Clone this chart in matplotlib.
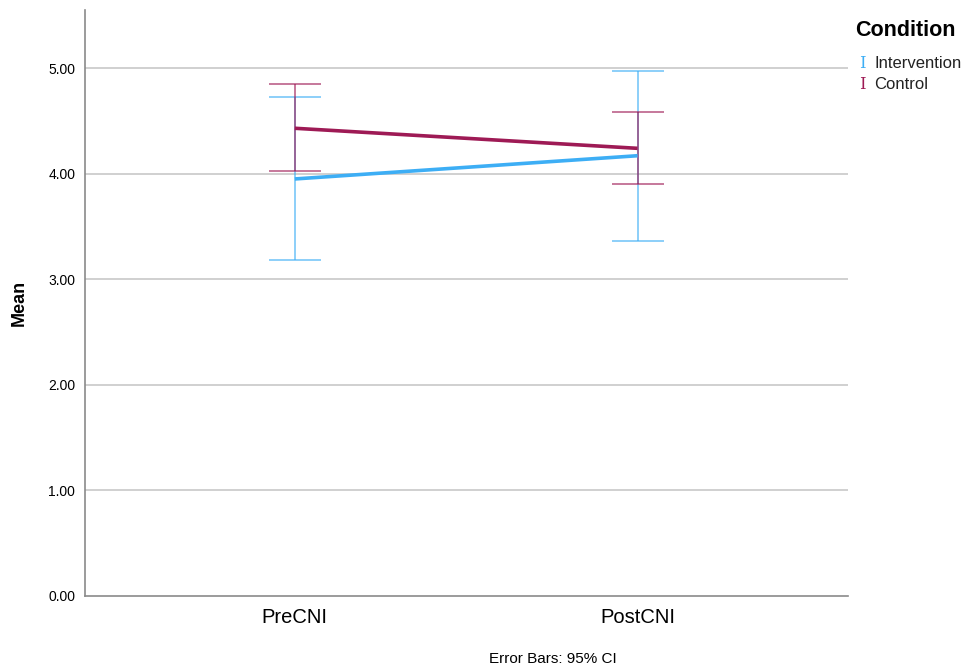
import matplotlib
matplotlib.use("Agg")
import matplotlib.pyplot as plt
import numpy as np

# data
times = ["PreCNI", "PostCNI"]
groups = ["Intervention", "Control"]
colors = ["#3DAEF5", "#9E1A55"]
means = {"Intervention": [3.95, 4.17], "Control": [4.43, 4.24]}
ci_low = {"Intervention": [3.18, 3.36], "Control": [4.03, 3.90]}
ci_high = {"Intervention": [4.73, 4.97], "Control": [4.85, 4.58]}
yticks = [0, 1, 2, 3, 4, 5]

plt.rcParams['font.family'] = ['Liberation Sans', 'DejaVu Sans']

fig = plt.figure(figsize=(9.64, 6.68), dpi=100)
ax = fig.add_axes([0.0882, 0.1078, 0.7915, 0.8772])

x = np.arange(len(times))
for g, c in zip(groups, colors):
    m = np.array(means[g])
    lo = m - np.array(ci_low[g])
    hi = np.array(ci_high[g]) - m
    ax.errorbar(x, m, yerr=[lo, hi], fmt='none', ecolor=c, elinewidth=1.1,
                capsize=18.5, capthick=1.1, alpha=0.75, zorder=3)
    ax.plot(x, m, color=c, lw=2.6, zorder=4, solid_capstyle='butt')

ax.set_xlim(-0.612, 1.614)
ax.set_ylim(0, 5.55)
ax.set_yticks(yticks)
ax.set_yticklabels([f"{v:.2f}" for v in yticks], fontsize=10)
ax.set_xticks(x)
ax.set_xticklabels(times, fontsize=14.5)
ax.tick_params(length=0, pad=7)
ax.tick_params(axis='x', pad=9)
for v in yticks[1:]:
    ax.axhline(v, color='#c8c8c8', lw=1.2, zorder=1)
for s in ['top', 'right']:
    ax.spines[s].set_visible(False)
for s in ['left', 'bottom']:
    ax.spines[s].set_color('#8a8a8a')
    ax.spines[s].set_linewidth(1.2)
ax.set_ylabel("Mean", fontsize=13, fontweight='bold')
ax.yaxis.set_label_coords(-0.075, 0.5)

# legend
fig.text(0.887, 0.955, "Condition", fontsize=15.5, fontweight='bold', va='center')
for i, (g, c) in enumerate(zip(groups, colors)):
    yy = 0.905 - i * 0.032
    fig.text(0.891, yy, "I", color=c, fontsize=12, va='center', family='DejaVu Serif')
    fig.text(0.907, yy, g, color='#222222', fontsize=12, va='center')

fig.text(0.574, 0.008, "Error Bars: 95% CI", fontsize=11, ha='center')

fig.savefig("out.png", dpi=100)
